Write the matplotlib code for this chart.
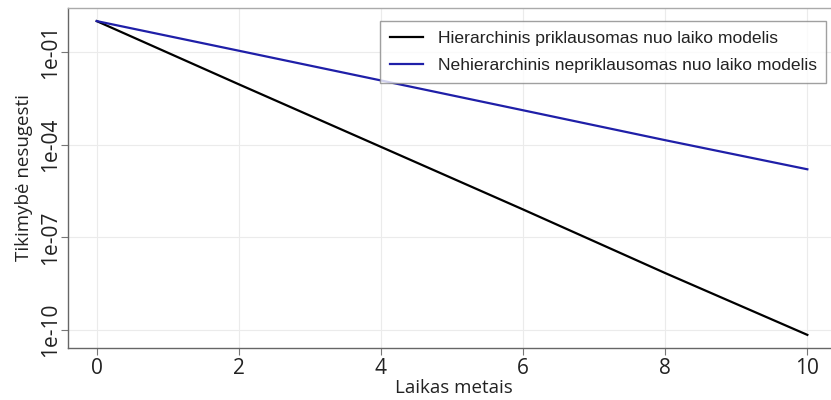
import matplotlib
matplotlib.use("Agg")
import matplotlib.pyplot as plt
from matplotlib.ticker import FixedLocator

years = [0, 2, 4, 6, 8, 10]
hier_dep = [1.0, 9e-3, 8.5e-5, 8e-7, 7e-9, 7e-11]
nonhier_indep = [1.0, 0.11, 1.2e-2, 1.3e-3, 1.4e-4, 1.6e-5]
labels = ["Hierarchinis priklausomas nuo laiko modelis",
          "Nehierarchinis nepriklausomas nuo laiko modelis"]
yticks = [1e-1, 1e-4, 1e-7, 1e-10]
ytick_labels = ["1e-01", "1e-04", "1e-07", "1e-10"]
xticks = [0, 2, 4, 6, 8, 10]

W, H = 831, 400
fig = plt.figure(figsize=(W / 100, H / 100), dpi=100)
axw = (W - 68) / W + 0.01
ax = fig.add_axes([68 / W, 1 - 348 / H, axw, (348 - 8) / H])

ax.plot(years, hier_dep, color="black", lw=1.6, label=labels[0])
ax.plot(years, nonhier_indep, color="#1f1fa8", lw=1.6, label=labels[1])
ax.set_yscale("log")
ax.set_xlim(-0.404, 10.45)
ax.set_ylim(10 ** -10.58, 10 ** 0.424)

ax.yaxis.set_major_locator(FixedLocator(yticks))
ax.yaxis.set_minor_locator(FixedLocator([]))
ax.set_yticks(yticks, ytick_labels)
ax.set_xticks(xticks)
ax.grid(True, color="#ebebeb", lw=0.8)
ax.set_axisbelow(True)

ax.spines["right"].set_visible(False)
for s in ["left", "bottom"]:
    ax.spines[s].set_color("#666666")
    ax.spines[s].set_linewidth(1.0)
ax.spines["top"].set_color("#aaaaaa")
ax.spines["top"].set_linewidth(1.0)

ax.tick_params(axis="both", direction="out", length=5, color="#777777",
               labelsize=15, labelcolor="#222222")
ax.tick_params(axis="y", pad=0)
ax.tick_params(axis="x", pad=2)
for t in ax.get_yticklabels():
    t.set_rotation(90)
    t.set_va("center")
    t.set_fontfamily("Open Sans")
for t in ax.get_xticklabels():
    t.set_fontfamily("Open Sans")

ax.set_xlabel("Laikas metais", fontsize=13.5, family="Open Sans", color="#222222", labelpad=0)
ax.set_ylabel("Tikimybė nesugesti", fontsize=13.5, family="Open Sans", color="#222222")
ax.yaxis.set_label_coords((33 - 68) / (axw * W), 0.5)

leg = ax.legend(loc="upper left", bbox_to_anchor=((380 - 68) / (axw * W), 1 - (21 - 8) / 340),
                prop={"family": "Liberation Sans", "size": 12.6}, frameon=True, fancybox=False,
                edgecolor="#888888", handlelength=1.9, handletextpad=0.85, borderpad=0.55,
                labelspacing=0.7, borderaxespad=0)
for t in leg.get_texts():
    t.set_color("#222222")
leg.get_frame().set_linewidth(1.0)

fig.savefig("out.png", dpi=100)
